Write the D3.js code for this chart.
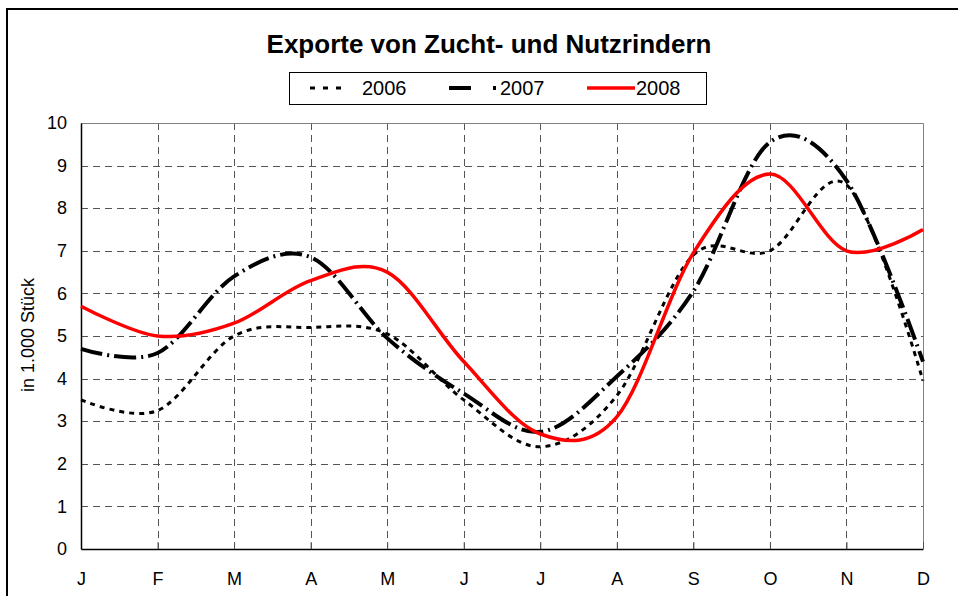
<!DOCTYPE html>
<html><head><meta charset="utf-8">
<script src="https://cdn.jsdelivr.net/npm/d3@7"></script>
<style>html,body{margin:0;padding:0;background:#fff;} svg{display:block;font-family:"Liberation Sans",Arial,sans-serif;}</style>
</head><body>
<svg id="c" width="958" height="596"></svg>
<script>
const months = ["J","F","M","A","M","J","J","A","S","O","N","D"];
const v2006 = [3.5, 3.25, 5.0, 5.2, 5.05, 3.5, 2.4, 3.6, 6.9, 7.0, 8.55, 3.95];
const v2007 = [4.7, 4.6, 6.4, 6.85, 4.95, 3.65, 2.75, 4.05, 6.05, 9.55, 8.65, 4.4];
const v2008 = [5.7, 5.0, 5.3, 6.3, 6.5, 4.4, 2.7, 3.1, 6.95, 8.8, 7.0, 7.5];
const yTicks = [0,1,2,3,4,5,6,7,8,9,10];
const seriesNames = ["2006","2007","2008"];

const svg = d3.select("#c");
const FF = "Liberation Sans, Arial, sans-serif";
const L = 81, R = 923, T = 123, B = 549;
const x = d3.scaleLinear().domain([0, months.length-1]).range([L, R]);
const y = d3.scaleLinear().domain([0, 10]).range([B, T]);

// outer frame
svg.append("rect").attr("x",7).attr("y",9).attr("width",1000).attr("height",1000)
  .attr("fill","none").attr("stroke","#000").attr("stroke-width",2);

// title
svg.append("text").attr("x",489).attr("y",53).attr("text-anchor","middle")
  .attr("font-size",26).attr("font-weight","bold").text("Exporte von Zucht- und Nutzrindern");

// grid
const g = svg.append("g");
g.selectAll(".hg").data(yTicks.filter(d=>d>0&&d<10)).join("line")
  .attr("x1",L).attr("x2",R).attr("y1",d=>Math.round(y(d))+0.5).attr("y2",d=>Math.round(y(d))+0.5)
  .attr("stroke","#555").attr("stroke-dasharray","7,5");
g.selectAll(".vg").data(d3.range(1, months.length-1)).join("line")
  .attr("x1",d=>Math.round(x(d))+0.5).attr("x2",d=>Math.round(x(d))+0.5).attr("y1",T).attr("y2",B)
  .attr("stroke","#555").attr("stroke-dasharray","7,5");
svg.append("path").attr("d",`M${L},${T+0.5}H${R+0.5}V${B}`).attr("fill","none").attr("stroke","#808080");

// axes
const xAxis = d3.axisBottom(x).tickValues(d3.range(months.length)).tickFormat(i=>months[i]).tickSizeInner(-7).tickSizeOuter(0).tickPadding(23);
const xg = svg.append("g").attr("transform",`translate(0,${B})`).call(xAxis);
xg.select(".domain").attr("stroke","#000").attr("stroke-width",1.5);
xg.selectAll(".tick line").attr("stroke","#555");
xg.selectAll("text").attr("font-size",18).attr("fill","#000").attr("font-family",FF);

const yAxis = d3.axisLeft(y).tickValues(yTicks).tickSize(0).tickPadding(14);
const yg = svg.append("g").attr("transform",`translate(${L},0)`).call(yAxis);
yg.select(".domain").attr("stroke","#000").attr("stroke-width",1.5);
yg.selectAll("text").attr("font-size",18).attr("fill","#000").attr("font-family",FF);

svg.append("text").attr("transform","translate(34,335) rotate(-90)").attr("text-anchor","middle")
  .attr("font-size",18).text("in 1.000 Stück");

// lines
const line = d3.line().x((d,i)=>x(i)).y(d=>y(d)).curve(d3.curveCatmullRom.alpha(0));
const styles = [
  {data:v2006, color:"#000", w:3, dash:"5,5"},
  {data:v2007, color:"#000", w:4, dash:"22,5,2,5"},
  {data:v2008, color:"#ff0000", w:3.5, dash:null}
];
styles.forEach(s=>{
  svg.append("path").attr("d",line(s.data)).attr("fill","none").attr("stroke",s.color)
    .attr("stroke-width",s.w).attr("stroke-dasharray",s.dash);
});

// legend
svg.append("rect").attr("x",289.5).attr("y",72.5).attr("width",417).attr("height",32)
  .attr("fill","#fff").attr("stroke","#000");
const lx = [310, 449, 587];
styles.forEach((s,i)=>{
  svg.append("line").attr("x1",lx[i]).attr("x2",lx[i]+(i==0?38:48)).attr("y1",88).attr("y2",88)
    .attr("stroke",s.color).attr("stroke-width",s.w).attr("stroke-dasharray", i==0?"5,8": (i==1?"22,22,3,5":null));
  svg.append("text").attr("x",[362,500,636][i]).attr("y",95).attr("font-size",20).text(seriesNames[i]);
});
</script>
</body></html>
